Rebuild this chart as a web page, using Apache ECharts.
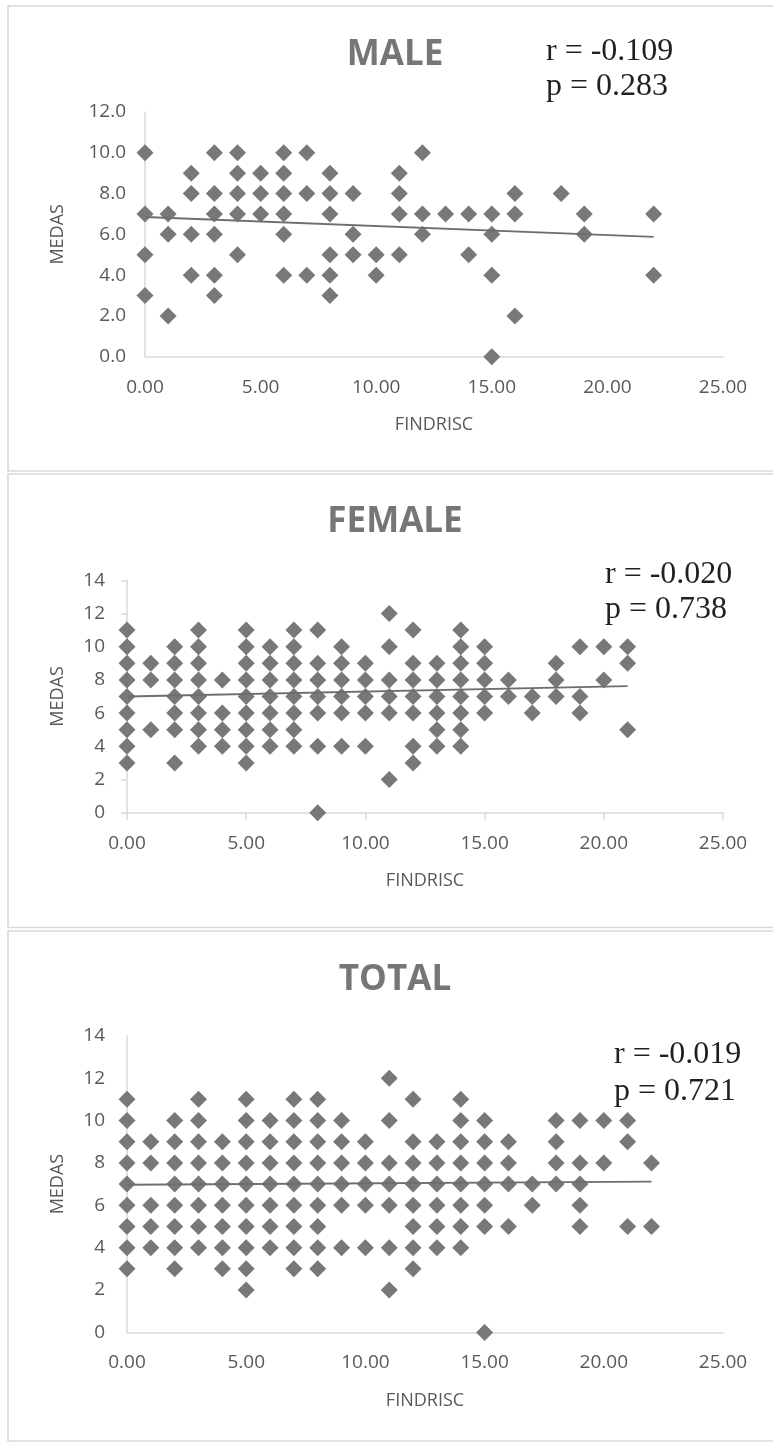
<!DOCTYPE html>
<html>
<head>
<meta charset="utf-8">
<script src="https://cdn.jsdelivr.net/npm/echarts@6/dist/echarts.min.js"></script>
<style>
html,body{margin:0;padding:0;background:#fff;}
#main{width:773px;height:1444px;}
</style>
</head>
<body>
<div id="main"></div>
<script>
// ---------- DATA ----------
const panelTitles = ['MALE', 'FEMALE', 'TOTAL'];
const statR = ['r = -0.109', 'r = -0.020', 'r = -0.019'];
const statP = ['p = 0.283', 'p = 0.738', 'p = 0.721'];
const xTickValues = [0, 5, 10, 15, 20, 25];
const maleYTicks = [0, 2, 4, 6, 8, 10, 12];
const femaleYTicks = [0, 2, 4, 6, 8, 10, 12, 14];
const totalYTicks = [0, 2, 4, 6, 8, 10, 12, 14];

// FINDRISC (x) -> MEDAS (y) points
const malePoints = [
  [0,10],[0,7],[0,5],[0,3],
  [1,7],[1,6],[1,2],
  [2,9],[2,8],[2,6],[2,4],
  [3,10],[3,8],[3,7],[3,6],[3,4],[3,3],
  [4,10],[4,9],[4,8],[4,7],[4,5],
  [5,9],[5,8],[5,7],
  [6,10],[6,9],[6,8],[6,7],[6,6],[6,4],
  [7,10],[7,8],[7,4],
  [8,9],[8,8],[8,7],[8,5],[8,4],[8,3],
  [9,8],[9,6],[9,5],
  [10,5],[10,4],
  [11,9],[11,8],[11,7],[11,5],
  [12,10],[12,7],[12,6],
  [13,7],
  [14,7],[14,5],
  [15,7],[15,6],[15,4],[15,0],
  [16,8],[16,7],[16,2],
  [18,8],
  [19,7],[19,6],
  [22,7],[22,4]
];
const femalePoints = [
  [0,11],[0,10],[0,9],[0,8],[0,7],[0,6],[0,5],[0,4],[0,3],
  [1,9],[1,8],[1,5],
  [2,10],[2,9],[2,8],[2,7],[2,6],[2,5],[2,3],
  [3,11],[3,10],[3,9],[3,8],[3,7],[3,6],[3,5],[3,4],
  [4,8],[4,6],[4,5],[4,4],
  [5,11],[5,10],[5,9],[5,8],[5,7],[5,6],[5,5],[5,4],[5,3],
  [6,10],[6,9],[6,8],[6,7],[6,6],[6,5],[6,4],
  [7,11],[7,10],[7,9],[7,8],[7,7],[7,6],[7,5],[7,4],
  [8,11],[8,9],[8,8],[8,7],[8,6],[8,4],[8,0],
  [9,10],[9,9],[9,8],[9,7],[9,6],[9,4],
  [10,9],[10,8],[10,7],[10,6],[10,4],
  [11,12],[11,10],[11,8],[11,7],[11,6],[11,2],
  [12,11],[12,9],[12,8],[12,7],[12,6],[12,4],[12,3],
  [13,9],[13,8],[13,7],[13,6],[13,5],[13,4],
  [14,11],[14,10],[14,9],[14,8],[14,7],[14,6],[14,5],[14,4],
  [15,10],[15,9],[15,8],[15,7],[15,6],
  [16,8],[16,7],
  [17,7],[17,6],
  [18,9],[18,8],[18,7],
  [19,10],[19,7],[19,6],
  [20,10],[20,8],
  [21,10],[21,9],[21,5]
];
const totalPoints = [
  [0,11],[0,10],[0,9],[0,8],[0,7],[0,6],[0,5],[0,4],[0,3],
  [1,9],[1,8],[1,6],[1,5],[1,4],
  [2,10],[2,9],[2,8],[2,7],[2,6],[2,5],[2,4],[2,3],
  [3,11],[3,10],[3,9],[3,8],[3,7],[3,6],[3,5],[3,4],
  [4,9],[4,8],[4,7],[4,6],[4,5],[4,4],[4,3],
  [5,11],[5,10],[5,9],[5,8],[5,7],[5,6],[5,5],[5,4],[5,3],[5,2],
  [6,10],[6,9],[6,8],[6,7],[6,6],[6,5],[6,4],
  [7,11],[7,10],[7,9],[7,8],[7,7],[7,6],[7,5],[7,4],[7,3],
  [8,11],[8,10],[8,9],[8,8],[8,7],[8,6],[8,5],[8,4],[8,3],
  [9,10],[9,9],[9,8],[9,7],[9,6],[9,4],
  [10,9],[10,8],[10,7],[10,6],[10,4],
  [11,12],[11,10],[11,8],[11,7],[11,6],[11,4],[11,2],
  [12,11],[12,9],[12,8],[12,7],[12,6],[12,5],[12,4],[12,3],
  [13,9],[13,8],[13,7],[13,6],[13,5],[13,4],
  [14,11],[14,10],[14,9],[14,8],[14,7],[14,6],[14,5],[14,4],
  [15,10],[15,9],[15,8],[15,7],[15,6],[15,5],[15,0],
  [16,9],[16,8],[16,7],[16,5],
  [17,7],[17,6],
  [18,10],[18,9],[18,8],[18,7],
  [19,10],[19,8],[19,7],[19,6],[19,5],
  [20,10],[20,8],
  [21,10],[21,9],[21,5],
  [22,8],[22,5]
];
// Linear trendline end points
const maleTrend = [[0, 6.85], [22, 5.88]];
const femaleTrend = [[0, 7.0], [21, 7.63]];
const totalTrend = [[0, 6.97], [22, 7.12]];

// ---------- STYLE / LAYOUT ----------
const AXIS_GRAY = '#d9d9d9';
const TEXT_GRAY = '#595959';
const MARK = '#77787b';
const TREND = '#6d6e70';
const FONT = '"Open Sans", "DejaVu Sans", sans-serif';

const grids = [
  {left:145, top:112, width:578, height:244.7},
  {left:127, top:580.3, width:596, height:232.4},
  {left:127, top:1035.8, width:596, height:296.6}
];
const yTickSets = [maleYTicks, femaleYTicks, totalYTicks];
const yDecimals = [1, 0, 0];
const showTicks = [false, true, false];
const yNameGap = [78, 60, 60];
const pointSets = [malePoints, femalePoints, totalPoints];
const trendSets = [maleTrend, femaleTrend, totalTrend];

const xAxes = grids.map((g, i) => ({
  type:'value', gridIndex:i, min:xTickValues[0], max:xTickValues[xTickValues.length-1],
  interval:xTickValues[1]-xTickValues[0],
  name:'FINDRISC', nameLocation:'middle', nameGap:59,
  nameTextStyle:{color:TEXT_GRAY, fontSize:18, fontFamily:FONT},
  axisLine:{show:true, onZero:false, lineStyle:{color:AXIS_GRAY, width:1.5}},
  axisTick:{show:showTicks[i], length:7, lineStyle:{color:AXIS_GRAY, width:1.5}},
  axisLabel:{color:TEXT_GRAY, fontSize:19, fontFamily:FONT, margin:21,
    formatter:v => v.toFixed(2)},
  splitLine:{show:false}
}));
const yAxes = grids.map((g, i) => ({
  type:'value', gridIndex:i, min:yTickSets[i][0], max:yTickSets[i][yTickSets[i].length-1],
  interval:yTickSets[i][1]-yTickSets[i][0],
  name:'MEDAS', nameLocation:'middle', nameGap:yNameGap[i],
  nameTextStyle:{color:TEXT_GRAY, fontSize:18, fontFamily:FONT},
  axisLine:{show:true, lineStyle:{color:AXIS_GRAY, width:1.5}},
  axisTick:{show:showTicks[i], length:6, lineStyle:{color:AXIS_GRAY, width:1.5}},
  axisLabel:{color:TEXT_GRAY, fontSize:19, fontFamily:FONT, margin:i===0?19:22,
    formatter:v => v.toFixed(yDecimals[i])},
  splitLine:{show:false}
}));

const series = [];
pointSets.forEach((pts, i) => {
  series.push({
    type:'scatter', xAxisIndex:i, yAxisIndex:i, data:pts,
    symbol:'diamond', symbolSize:17, itemStyle:{color:MARK, opacity:1},
    silent:true, z:2
  });
  series.push({
    type:'line', xAxisIndex:i, yAxisIndex:i, data:trendSets[i],
    symbol:'none', lineStyle:{color:TREND, width:1.8}, silent:true, z:3
  });
});

const panels = [
  {y:6, h:465},
  {y:474, h:453.5},
  {y:931, h:510}
];
const titleY = [55, 522, 980];
const statPos = [
  {x:546, r:52, p:87},
  {x:605, r:575, p:610},
  {x:614, r:1055, p:1092}
];

const graphics = [];
panels.forEach(p => {
  graphics.push({type:'rect', shape:{x:8, y:p.y, width:900, height:p.h},
    style:{fill:'none', stroke:AXIS_GRAY, lineWidth:1.6}, silent:true, z:-1});
});
panelTitles.forEach((t, i) => {
  graphics.push({type:'text', x:395, y:titleY[i],
    style:{text:t, fill:'#767676', font:'bold 35px ' + FONT, align:'center', verticalAlign:'middle'}});
  graphics.push({type:'text', x:statPos[i].x, y:statPos[i].r,
    style:{text:statR[i], fill:'#231f20', font:'32px "Liberation Serif", "Times New Roman", serif', align:'left', verticalAlign:'middle'}});
  graphics.push({type:'text', x:statPos[i].x, y:statPos[i].p,
    style:{text:statP[i], fill:'#231f20', font:'32px "Liberation Serif", "Times New Roman", serif', align:'left', verticalAlign:'middle'}});
});

const chart = echarts.init(document.getElementById('main'), null, {renderer:'canvas', width:773, height:1444});
chart.setOption({
  animation:false,
  backgroundColor:'#ffffff',
  grid: grids.map(g => Object.assign({outerBoundsMode:'none', containLabel:false}, g)),
  xAxis: xAxes,
  yAxis: yAxes,
  series: series,
  graphic: graphics
});
</script>
</body>
</html>
